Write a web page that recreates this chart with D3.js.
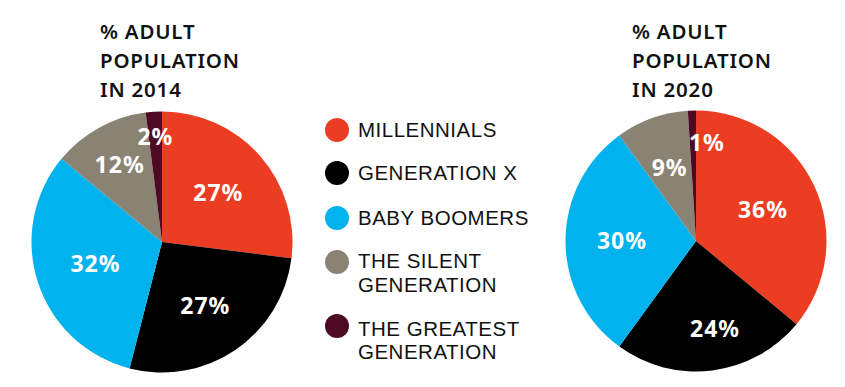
<!DOCTYPE html>
<html><head><meta charset="utf-8">
<script src="https://cdn.jsdelivr.net/npm/d3@7"></script>
<style>body{margin:0;background:#fff}svg{display:block}</style>
</head><body>
<script>
const categories = ["MILLENNIALS","GENERATION X","BABY BOOMERS","THE SILENT GENERATION","THE GREATEST GENERATION"];
const legendLines = [["MILLENNIALS"],["GENERATION X"],["BABY BOOMERS"],["THE SILENT","GENERATION"],["THE GREATEST","GENERATION"]];
const colors = ["#EC3D23","#000000","#00B2EE","#8A8374","#4E0A24"];
const values2014 = [27,27,32,12,2];
const values2020 = [36,24,30,9,1];
const titles = [["% ADULT","POPULATION","IN 2014"],["% ADULT","POPULATION","IN 2020"]];

const W=845,H=387;
const svg=d3.select("body").append("svg").attr("width",W).attr("height",H);
const font="'Noto Sans', sans-serif";
const legendFont="'Liberation Sans', Arial, sans-serif";

const pie=d3.pie().sort(null).value(d=>d);
const R=130.5;
const arc=d3.arc().innerRadius(0).outerRadius(R);

// label radius & offset tweaks by slice index (layout, not data)
const charts=[
  {vals:values2014,cx:162,cy:242,title:titles[0],tx:100,lr:[75,77,70,88,105],dx:[0,0,0,0,0]},
  {vals:values2020,cx:696,cy:241,title:titles[1],tx:632,lr:[74,88,74,78,98],dx:[0,8,0,0,14]}
];
const color=d3.scaleOrdinal().domain(categories).range(colors);

charts.forEach(c=>{
  const g=svg.append("g").attr("transform",`translate(${c.cx},${c.cy})`);
  const arcs=pie(c.vals);
  g.selectAll("path").data(arcs).join("path")
    .attr("d",arc).attr("fill",(d,i)=>color(categories[i]));
  g.selectAll("text").data(arcs).join("text")
    .attr("transform",(d,i)=>{
      const a=(d.startAngle+d.endAngle)/2, r=c.lr[i];
      return `translate(${r*Math.sin(a)+c.dx[i]},${-r*Math.cos(a)})`;})
    .attr("text-anchor","middle").attr("dy","0.36em")
    .attr("fill","#fff").attr("font-family",font).attr("font-weight","bold")
    .attr("font-size",23).attr("letter-spacing",1).text(d=>d.value+"%");
  c.title.forEach((l,i)=>svg.append("text").attr("font-family",font).attr("font-weight",600)
    .attr("font-size",20.5).attr("letter-spacing",0.8).attr("fill","#111")
    .attr("x",c.tx).attr("y",38.5+i*29.2).text(l));
});

// legend
const rowY=[130,173,218,262,326];
const baseOff=[7,7,7,6,9.5];
const lg=svg.append("g");
categories.forEach((cat,i)=>{
  lg.append("circle").attr("cx",337).attr("cy",rowY[i]).attr("r",12).attr("fill",color(cat));
  legendLines[i].forEach((l,j)=>lg.append("text").attr("font-family",legendFont).attr("font-size",20.5)
    .attr("letter-spacing",0.5).attr("fill","#111")
    .attr("x",358).attr("y",rowY[i]+baseOff[i]+j*23.8).text(l));
});
</script>
</body></html>
